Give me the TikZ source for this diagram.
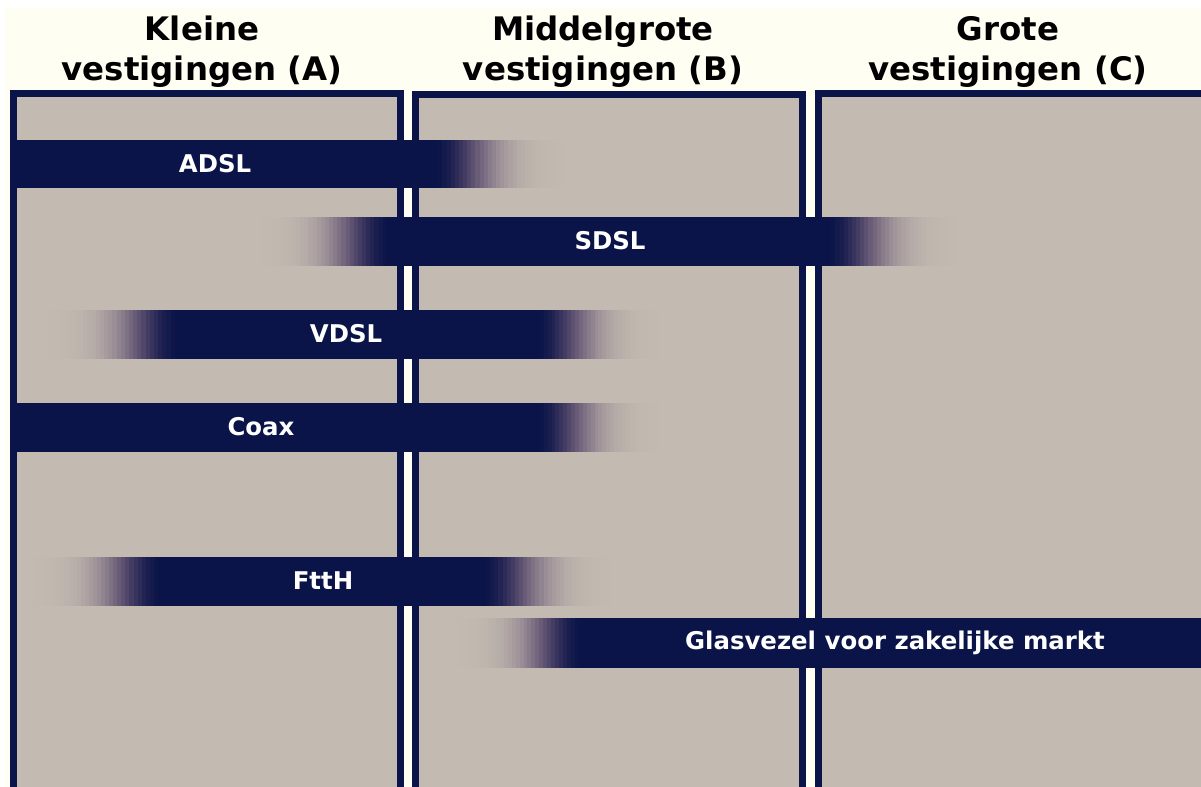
\documentclass[tikz,border=0pt]{standalone}
\usepackage{fontspec}
\setmainfont{DejaVu Sans}
\definecolor{navy}{HTML}{0A1448}
\definecolor{beige}{HTML}{C3BBB1}
\definecolor{cream}{HTML}{FFFEF2}
% fade of a band: navy side x, beige side x, top y, bottom y
\newcommand\fadeband[4]{%
	\foreach \i in {0,...,31}{%
		\pgfmathsetmacro\p{exp(-((\i/31)/0.42)^2)}%
		\pgfmathtruncatemacro\cr{195-185*\p}%
		\pgfmathtruncatemacro\cg{187-167*\p-52*\p*(1-\p)}%
		\pgfmathtruncatemacro\cb{177-105*\p-24*\p*(1-\p)}%
		\definecolor{fadec}{RGB}{\cr,\cg,\cb}%
		\fill[fadec] ({#1+(#2-#1)*\i/32},#3) rectangle ({#1+(#2-#1)*(\i+1.4)/32},#4);}}
\begin{document}
\begin{tikzpicture}[x=0.75pt,y=-0.75pt,
	panel/.style={fill=beige,draw=navy,line width=5.25pt},
	lab/.style={text=white,font=\bfseries\fontsize{18.3}{22}\selectfont},
	head/.style={align=center,font=\bfseries\fontsize{24.3}{30}\selectfont}]
	\useasboundingbox (0,0) rectangle (1201,787);
	\fill[cream] (5,8) rectangle (1201,787);
	\path[panel] (13.5,94) rectangle (400.5,791)
	(415.5,95) rectangle (802.5,791)
	(818.5,94) rectangle (1206,791);
	\path foreach \x/\t[count=\k] in {202/{Kleine\\vestigingen (A)},603/{Middelgrote\\vestigingen (B)},1008/{Grote\\vestigingen (C)}} {(\x,52) node[head](h\k){\t}};
	% ADSL
	\fill[navy] (10,140) rectangle (431,188);
	\fadeband{430}{562}{140}{188}
	\node[lab](adsl) at (215,164) {ADSL};
	% SDSL
	\fadeband{395}{263}{217}{266}
	\fill[navy] (394,217) rectangle (824,266);
	\fadeband{823}{955}{217}{266}
	\node[lab](sdsl) at (610,241) {SDSL};
	% VDSL
	\fadeband{183}{50}{310}{359}
	\fill[navy] (182,310) rectangle (533,359);
	\fadeband{532}{657}{310}{359}
	\node[lab](vdsl) at (346,334) {VDSL};
	% Coax
	\fill[navy] (10,403) rectangle (533,452);
	\fadeband{532}{657}{403}{452}
	\node[lab](coax) at (261,427) {Coax};
	% FttH
	\fadeband{166}{36}{557}{606}
	\fill[navy] (165,557) rectangle (479,606);
	\fadeband{478}{609}{557}{606}
	\node[lab](ftth) at (323,581) {FttH};
	% Glasvezel
	\fadeband{587}{460}{618}{668}
	\fill[navy] (586,618) rectangle (1201,668);
	\node[lab](glas) at (895,643) {Glasvezel voor zakelijke markt};
\end{tikzpicture}
\end{document}
